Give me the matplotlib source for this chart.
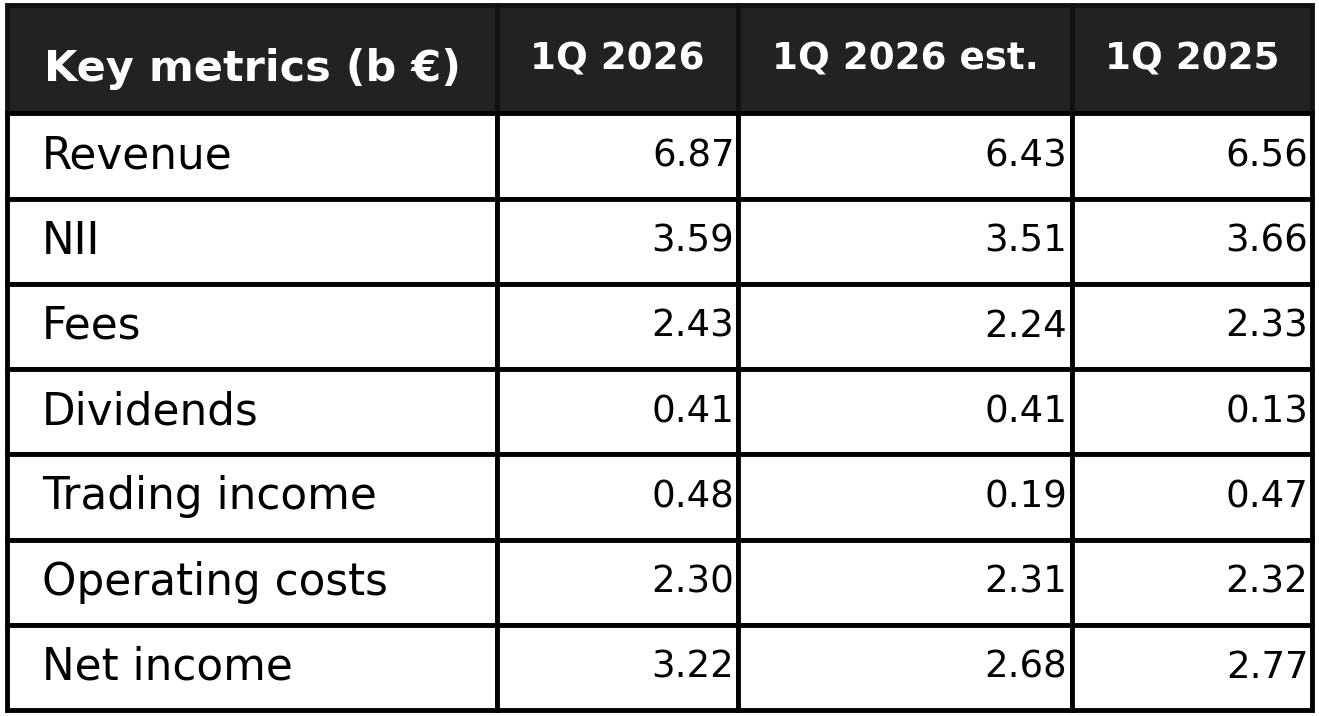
import matplotlib.pyplot as plt
import matplotlib.transforms as mtransforms

header = ['Key metrics (b €)', '1Q 2026', '1Q 2026 est.', '1Q 2025']
metrics = ['Revenue', 'NII', 'Fees', 'Dividends', 'Trading income',
           'Operating costs', 'Net income']
q1_2026 = [6.87, 3.59, 2.43, 0.41, 0.48, 2.30, 3.22]
q1_2026_est = [6.43, 3.51, 2.24, 0.41, 0.19, 2.31, 2.68]
q1_2025 = [6.56, 3.66, 2.33, 0.13, 0.47, 2.32, 2.77]


def main():
    fig = plt.figure(figsize=(13.19, 7.16), dpi=100)
    ax = fig.add_axes([7 / 1319, 6 / 716, 1305 / 1319, 705 / 716])
    ax.axis('off')

    rows = list()
    for m, a, b, c in zip(metrics, q1_2026, q1_2026_est, q1_2025):
        rows.append([m, '%.2f' % a, '%.2f' % b, '%.2f' % c])

    col_w = [490, 241, 334, 240]
    tbl = ax.table(cellText=rows, colLabels=header, colWidths=col_w,
                   bbox=[0, 0, 1, 1], cellLoc='right')
    tbl.auto_set_font_size(False)

    for (r, c), cell in tbl.get_celld().items():
        cell.set_edgecolor('black')
        cell.set_linewidth(3.5)
        txt = cell.get_text()
        if r == 0:
            cell.set_height(108)
            cell.set_facecolor('#222222')
            cell.set_edgecolor('#111111')
            txt.set_color('white')
            txt.set_fontweight('bold')
            txt.set_fontsize(31 if c == 0 else 26.8)
            txt.set_horizontalalignment('center')
            cell._loc = 'center'
            if c == 0:
                # first header label sits a bit lower in the reference
                txt.set_transform(mtransforms.Affine2D().translate(0, -10))
        else:
            cell.set_height(85)
            cell.set_facecolor('white')
            if c == 0:
                cell._loc = 'left'
                cell.PAD = 0.071
                txt.set_horizontalalignment('left')
                txt.set_fontsize(31.5)
            else:
                cell._loc = 'right'
                cell.PAD = 0.015
                txt.set_horizontalalignment('right')
                txt.set_fontsize(26.7)

    fig.savefig('out.png', dpi=100)


if __name__ == '__main__':
    main()
